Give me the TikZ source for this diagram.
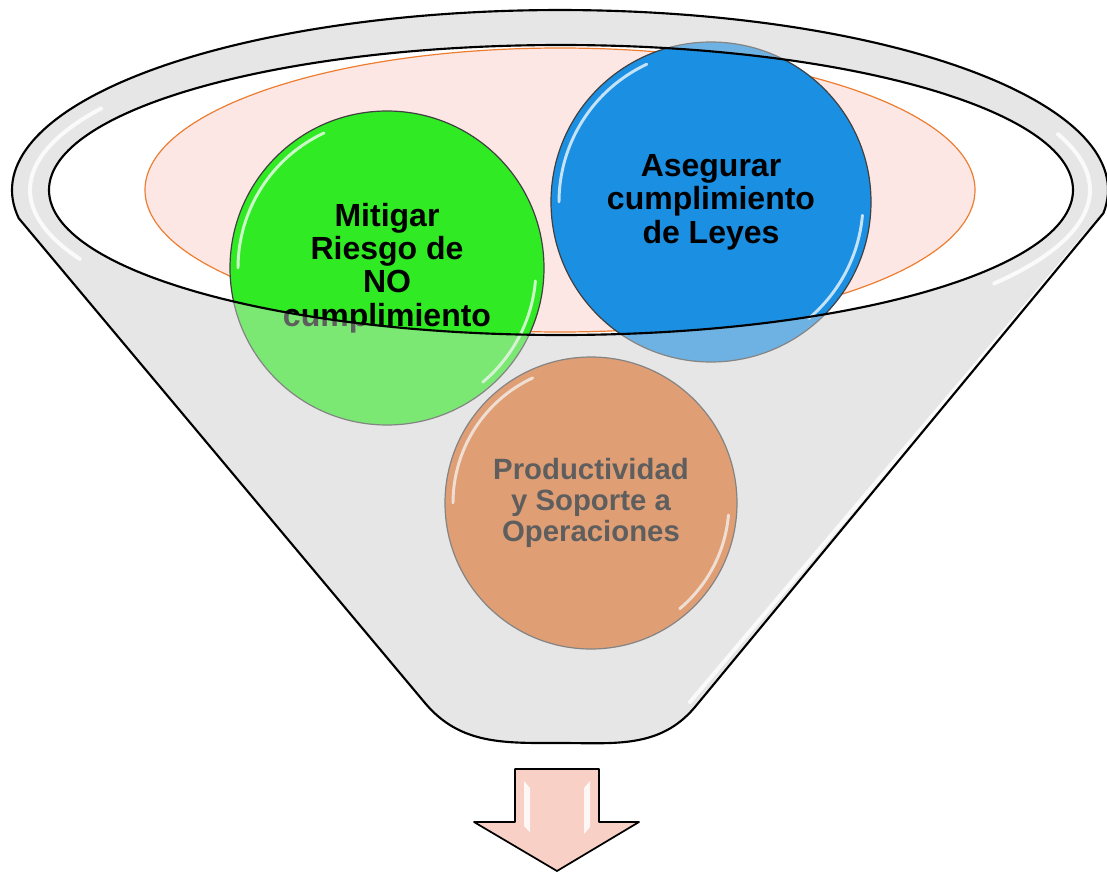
\documentclass[tikz,border=0pt]{standalone}
\usepackage{fontspec}
\setmainfont{Liberation Sans}
\definecolor{funnelgray}{RGB}{230,230,230}
\definecolor{pinkfill}{RGB}{252,231,228}
\definecolor{pinkline}{RGB}{237,125,49}
\definecolor{cgreen}{RGB}{48,234,36}
\definecolor{cblue}{RGB}{27,143,226}
\definecolor{corange}{RGB}{220,108,37}
\definecolor{arrowpink}{RGB}{248,208,198}
\begin{document}
\begin{tikzpicture}[x=0.75pt,y=0.75pt,
  funnelline/.style={draw=black, line width=1.6pt, line join=round},
  bubble/.style={circle, draw=black!75, line width=0.9pt, inner sep=0pt, align=center,
                 font=\bfseries\fontsize{24}{25}\selectfont, text=black},
  hl/.style={draw=white, line width=2.2pt, opacity=0.75, line cap=round},
  rimhl/.style={draw=white, line width=3pt, opacity=0.8, line cap=round}]
\useasboundingbox (0,0) rectangle (1107,-874);

% funnel back
\path[fill=funnelgray] (18.7,-218.2) -- (425,-703) to[out=-50,in=180] (560,-743)
  to[out=0,in=-130] (695,-707) -- (1103.4,-213.2)
  arc[start angle=-7.4, end angle=189, x radius=548, y radius=180] -- cycle;

% opening
\path[fill=white] (561,-190) ellipse [x radius=512, y radius=145];
\path[fill=pinkfill, draw=pinkline, line width=0.9pt] (560,-190) ellipse [x radius=415, y radius=142];

% bubbles
\node[bubble, fill=cgreen, minimum size=235.5pt] (mitigar) at (387,-268)
  {Mitigar\\Riesgo de\\NO\\cumplimiento};
\node[bubble, fill=cblue, minimum size=240pt] (asegurar) at (711,-202)
  {Asegurar\\cumplimiento\\de Leyes};
\node[bubble, fill=corange, minimum size=219pt, font=\bfseries\fontsize{22}{23.5}\selectfont] (productividad) at (591,-503)
  {Productividad\\y Soporte a\\Operaciones};

% bubble highlights
\draw[hl] ([shift={(115:149)}]mitigar.center) arc[start angle=115, end angle=180, radius=149];
\draw[hl] ([shift={(-5:149)}]mitigar.center) arc[start angle=-5, end angle=-50, radius=149];
\draw[hl] ([shift={(115:152)}]asegurar.center) arc[start angle=115, end angle=180, radius=152];
\draw[hl] ([shift={(-5:152)}]asegurar.center) arc[start angle=-5, end angle=-50, radius=152];
\draw[hl] ([shift={(115:138)}]productividad.center) arc[start angle=115, end angle=180, radius=138];
\draw[hl] ([shift={(-5:138)}]productividad.center) arc[start angle=-5, end angle=-50, radius=138];

% translucent front face of the funnel
\path[fill=funnelgray, fill opacity=0.41, even odd rule]
  (18.7,-218.2) -- (425,-703) to[out=-50,in=180] (560,-743)
  to[out=0,in=-130] (695,-707) -- (1103.4,-213.2)
  arc[start angle=-7.4, end angle=189, x radius=548, y radius=180] -- cycle
  (561,-190) ellipse [x radius=512, y radius=145];

% glossy highlights on rim and side
\draw[rimhl] (560,-190) ++(150:530 and 163) arc[start angle=150, end angle=205, x radius=530, y radius=163];
\draw[rimhl] (560,-190) ++(-35:530 and 163) arc[start angle=-35, end angle=20, x radius=530, y radius=163];
\draw[rimhl] (1088,-232) -- (690,-702);

% outlines
\draw[funnelline] (18.7,-218.2) -- (425,-703) to[out=-50,in=180] (560,-743)
  to[out=0,in=-130] (695,-707) -- (1103.4,-213.2)
  arc[start angle=-7.4, end angle=189, x radius=548, y radius=180] -- cycle;
\draw[funnelline] (561,-190) ellipse [x radius=512, y radius=145];

% output arrow
\draw[fill=arrowpink, line width=1.3pt, line join=round]
  (515,-769) -- (599,-769) -- (599,-822) -- (639,-822) -- (557,-871)
  -- (474,-822) -- (515,-822) -- cycle;
\fill[white, opacity=0.85] (524,-781) -- (530,-788) -- (530,-832) -- (524,-826) -- cycle;
\fill[white, opacity=0.85] (590,-781) -- (584,-788) -- (584,-834) -- (590,-827) -- cycle;
\end{tikzpicture}
\end{document}
